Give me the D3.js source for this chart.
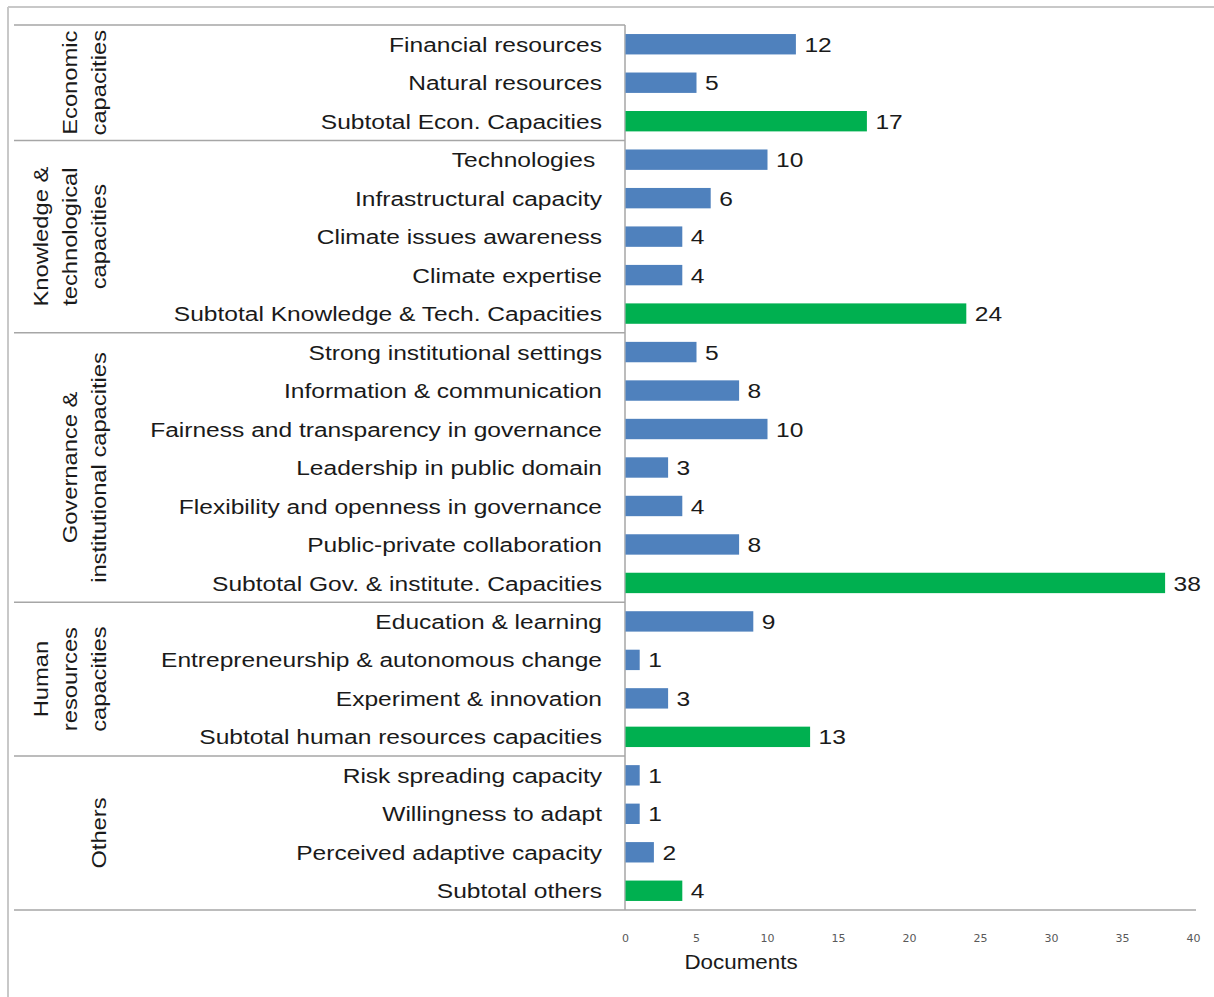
<!DOCTYPE html>
<html>
<head>
<meta charset="utf-8">
<script src="https://d3js.org/d3.v7.min.js"></script>
<style>
  html, body { margin: 0; padding: 0; background: #fff; }
  svg { display: block; }
</style>
</head>
<body>
<svg id="chart" width="1214" height="997"></svg>
<script>
// Capacity categories, top to bottom
const categories = [
  "Financial resources", "Natural resources", "Subtotal Econ. Capacities",
  "Technologies ", "Infrastructural capacity", "Climate issues awareness", "Climate expertise",
  "Subtotal Knowledge & Tech. Capacities",
  "Strong institutional settings", "Information & communication",
  "Fairness and transparency in governance", "Leadership in public domain",
  "Flexibility and openness in governance", "Public-private collaboration",
  "Subtotal Gov. & institute. Capacities",
  "Education & learning", "Entrepreneurship & autonomous change", "Experiment & innovation",
  "Subtotal human resources capacities",
  "Risk spreading capacity", "Willingness to adapt", "Perceived adaptive capacity",
  "Subtotal others"
];
// Number of documents per category
const documents = [12, 5, 17, 10, 6, 4, 4, 24, 5, 8, 10, 3, 4, 8, 38, 9, 1, 3, 13, 1, 1, 2, 4];
// Rows that are group subtotals
const subtotalRows = [
  "Subtotal Econ. Capacities", "Subtotal Knowledge & Tech. Capacities",
  "Subtotal Gov. & institute. Capacities", "Subtotal human resources capacities",
  "Subtotal others"
];
// Group headings (lines of rotated text) and number of rows each spans
const groupNames = [
  ["Economic", "capacities"],
  ["Knowledge &", "technological", "capacities"],
  ["Governance &", "institutional capacities"],
  ["Human", "resources", "capacities"],
  ["Others"]
];
const groupSizes = [3, 5, 7, 4, 4];
const xTicks = [0, 5, 10, 15, 20, 25, 30, 35, 40];
const xTitle = "Documents";

const svg = d3.select("#chart");
const BLUE = "#4f81bd", GREEN = "#00b050", GRID = "#a6a6a6";
const FONT = "Liberation Sans, Arial, sans-serif";
const INK = "#1a1a1a";
const STRETCH = 1.17;   // wide-set label lettering

const plotLeft = 625, plotRight = 1193, plotTop = 25, plotBottom = 910;

const x = d3.scaleLinear().domain([0, 40]).range([plotLeft, plotRight]);
const y = d3.scaleBand().domain(categories).range([plotTop, plotBottom]).paddingInner(0.47).paddingOuter(0.235);

// outer frame
svg.append("line").attr("x1", 8).attr("x2", 8).attr("y1", 7).attr("y2", 997)
  .attr("stroke", "#c8c8c8").attr("stroke-width", 2);
svg.append("line").attr("x1", 8).attr("x2", 1214).attr("y1", 7).attr("y2", 7)
  .attr("stroke", "#c8c8c8").attr("stroke-width", 2);

// group separators
const rowStep = (plotBottom - plotTop) / categories.length;
let cum = 0;
const bounds = [0];
groupSizes.forEach(s => { cum += s; bounds.push(cum); });
bounds.forEach((b, i) => {
  const yy = plotTop + b * rowStep;
  const isLast = i === bounds.length - 1;
  svg.append("line")
    .attr("x1", 14).attr("x2", isLast ? 1196 : plotLeft)
    .attr("y1", yy).attr("y2", yy)
    .attr("stroke", GRID).attr("stroke-width", 1.5);
});
// category axis line
svg.append("line").attr("x1", plotLeft).attr("x2", plotLeft)
  .attr("y1", plotTop).attr("y2", plotBottom)
  .attr("stroke", GRID).attr("stroke-width", 1.5);

// bars
svg.append("g").selectAll("rect").data(categories).join("rect")
  .attr("x", x(0) + 0.5)
  .attr("y", d => y(d))
  .attr("width", (d, i) => x(documents[i]) - x(0))
  .attr("height", y.bandwidth())
  .attr("fill", d => subtotalRows.includes(d) ? GREEN : BLUE);

// value labels
svg.append("g").selectAll("text").data(categories).join("text")
  .attr("transform", (d, i) => `translate(${x(documents[i]) + 9},${y(d) + y.bandwidth() / 2}) scale(${STRETCH},1)`)
  .attr("dy", "0.36em")
  .attr("font-family", FONT)
  .attr("font-size", 21)
  .attr("fill", INK)
  .text((d, i) => documents[i]);

// category labels
svg.append("g").selectAll("text").data(categories).join("text")
  .attr("transform", d => `translate(602,${y(d) + y.bandwidth() / 2}) scale(${STRETCH},1)`)
  .attr("dy", "0.36em")
  .attr("text-anchor", "end")
  .attr("font-family", FONT)
  .attr("font-size", 21)
  .attr("fill", INK)
  .style("white-space", "pre")
  .text(d => d);

// rotated group headings
groupNames.forEach((lines, gi) => {
  const cy = plotTop + (bounds[gi] + bounds[gi + 1]) / 2 * rowStep;
  const n = lines.length;
  lines.forEach((ln, li) => {
    const cx = 98 - (n - 1 - li) * 29;
    svg.append("text")
      .attr("transform", `translate(${cx},${cy}) rotate(-90) scale(1.13,1)`)
      .attr("text-anchor", "middle")
      .attr("dy", "0.36em")
      .attr("font-family", FONT)
      .attr("font-size", 21)
      .attr("fill", INK)
      .text(ln);
  });
});

// x axis tick labels
const xAxis = d3.axisBottom(x).tickValues(xTicks).tickSize(0).tickPadding(0);
const gx = svg.append("g").attr("transform", `translate(0,${934})`).call(xAxis);
gx.select(".domain").remove();
gx.selectAll("text")
  .attr("font-family", "DejaVu Sans, sans-serif")
  .attr("font-size", 11)
  .attr("fill", "#595959");

svg.append("text")
  .attr("transform", `translate(741,969) scale(1.12,1)`)
  .attr("text-anchor", "middle")
  .attr("font-family", FONT)
  .attr("font-size", 20)
  .attr("fill", INK)
  .text(xTitle);
</script>
</body>
</html>
